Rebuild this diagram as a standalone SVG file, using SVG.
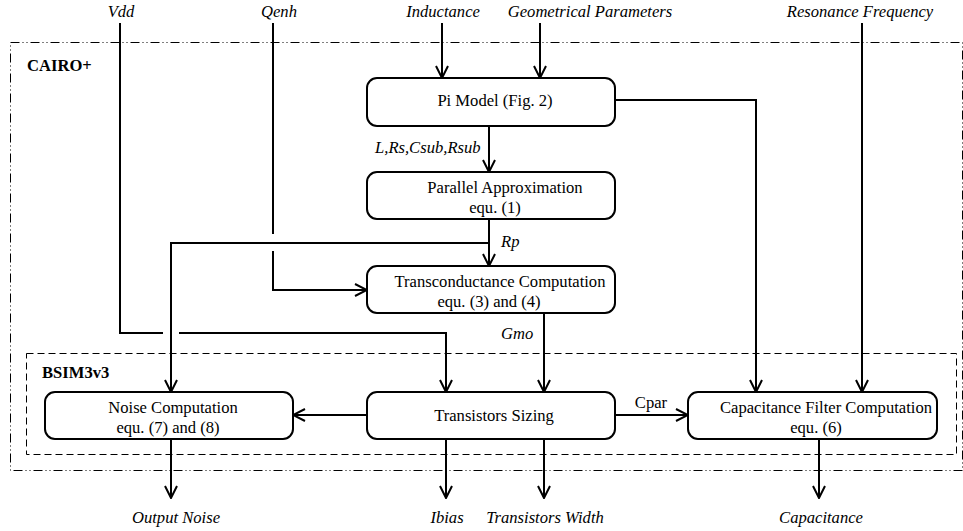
<svg xmlns="http://www.w3.org/2000/svg" width="963" height="531" viewBox="0 0 963 531">
<defs>
<marker id="arr" viewBox="0 0 14 14" refX="13" refY="7" markerWidth="14" markerHeight="14" markerUnits="userSpaceOnUse" orient="auto">
<path d="M1,1 L13,7 L1,13" fill="none" stroke="#000" stroke-width="2"/>
</marker>
<style>
.box{fill:#fff;stroke:#000;stroke-width:2}
text{font-family:'Liberation Serif','Times New Roman',Tinos,'DejaVu Serif',serif;font-size:16.6px;fill:#000}
.t{text-anchor:middle}
.i{font-style:italic}
.b{font-weight:bold}
.c{fill:none;stroke:#000;stroke-width:2}
.a{marker-end:url(#arr)}
</style>
</defs>
<rect id="cairo" x="10.5" y="42.5" width="952" height="428" fill="none" stroke="#000" stroke-width="1" stroke-dasharray="9,3,1,3,1,3"/>
<rect id="bsim" x="26.5" y="353.5" width="930" height="101" fill="none" stroke="#000" stroke-width="1" stroke-dasharray="7,4"/>
<text class="b" x="27" y="71">CAIRO+</text>
<text class="b" x="42" y="378">BSIM3v3</text>

<g id="connectors">
<path class="c a" d="M442,23 V78"/>
<path class="c a" d="M540,23 V78"/>
<path class="c a" d="M862,23 V392"/>
<path class="c a" d="M615,100 H756 V392"/>
<path class="c a" d="M489,126 V172"/>
<path class="c a" d="M489,219 V266"/>
<path class="c a" d="M489,243 H171 V392"/>
<path class="c" d="M273,23 V234"/>
<path class="c a" d="M273,251 V290 H367"/>
<path class="c" d="M120,23 V333 H163"/>
<path class="c a" d="M179,333 H446 V392"/>
<path class="c a" d="M544,313 V392"/>
<path class="c a" d="M367,415 H293"/>
<path class="c a" d="M615,415 H688"/>
<path class="c a" d="M171,439 V498"/>
<path class="c a" d="M446,439 V498"/>
<path class="c a" d="M544,439 V498"/>
<path class="c a" d="M819,439 V498"/>
<text class="i" x="375" y="153">L,Rs,Csub,Rsub</text>
<text class="i" x="501" y="247">Rp</text>
<text class="i" x="501" y="339">Gmo</text>
<text class="t" x="651" y="408">Cpar</text>
</g>

<g id="pi">
<rect class="box" x="367" y="78" width="248" height="48" rx="10"/>
<text class="t" x="495" y="106">Pi Model (Fig. 2)</text>
</g>
<g id="parallel">
<rect class="box" x="367" y="172" width="248" height="47" rx="10"/>
<text class="t" x="505" y="193">Parallel Approximation</text>
<text class="t" x="495" y="213">equ. (1)</text>
</g>
<g id="transconductance">
<rect class="box" x="367" y="266" width="248" height="47" rx="10"/>
<text class="t" x="500" y="287">Transconductance Computation</text>
<text class="t" x="489" y="307">equ. (3) and (4)</text>
</g>
<g id="noise">
<rect class="box" x="45" y="392" width="248" height="47" rx="10"/>
<text class="t" x="173" y="413">Noise Computation</text>
<text class="t" x="168" y="433">equ. (7) and (8)</text>
</g>
<g id="sizing">
<rect class="box" x="367" y="392" width="248" height="47" rx="10"/>
<text class="t" x="494" y="421">Transistors Sizing</text>
</g>
<g id="capfilter">
<rect class="box" x="688" y="392" width="249" height="47" rx="10"/>
<text class="t" x="826" y="413">Capacitance Filter Computation</text>
<text class="t" x="816" y="433">equ. (6)</text>
</g>

<g id="labels">
<text class="i t" x="121" y="17">Vdd</text>
<text class="i t" x="279" y="17">Qenh</text>
<text class="i t" x="443" y="17">Inductance</text>
<text class="i t" x="590" y="17">Geometrical Parameters</text>
<text class="i t" x="860" y="17">Resonance Frequency</text>
<text class="i t" x="176" y="523">Output Noise</text>
<text class="i t" x="447" y="523">Ibias</text>
<text class="i t" x="545" y="523">Transistors Width</text>
<text class="i t" x="821" y="523">Capacitance</text>
</g>
</svg>
